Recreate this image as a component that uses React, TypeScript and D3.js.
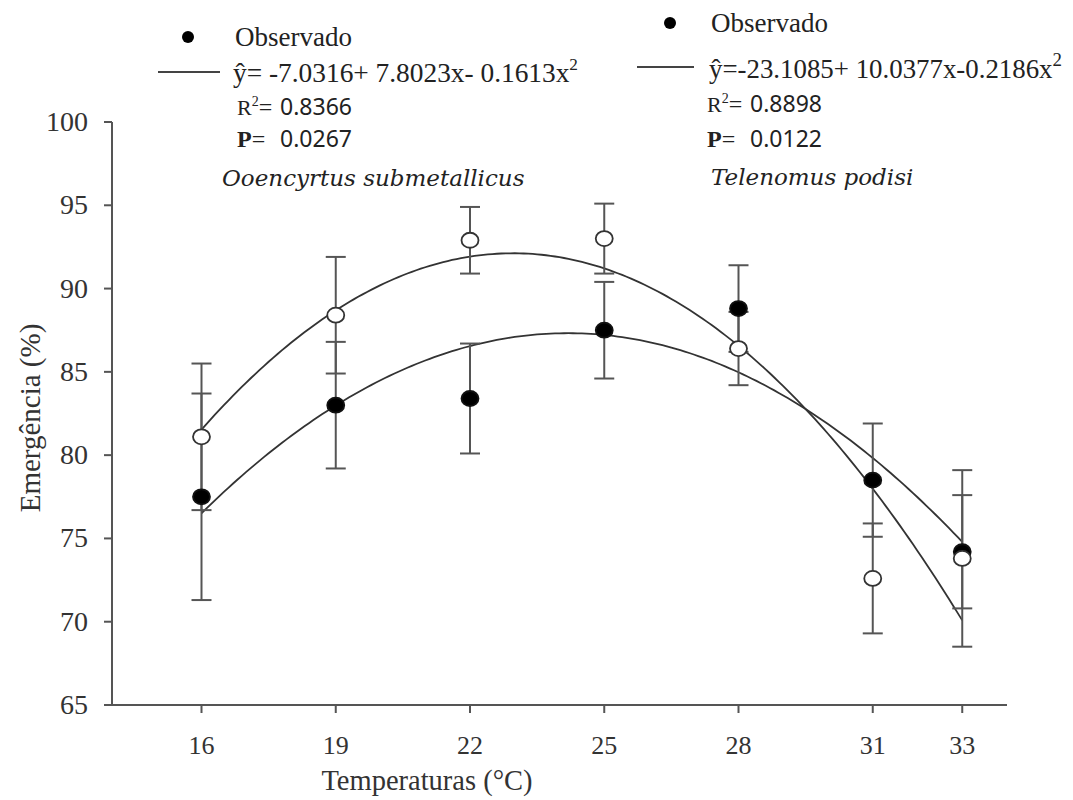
import React from 'react';
import * as d3 from 'd3';

// Temperatures tested (°C)
const temps = [16, 19, 22, 25, 28, 31, 33];

// Ooencyrtus submetallicus: mean emergence (%) and standard error
const ooencyrtusMean = [77.5, 83.0, 83.4, 87.5, 88.8, 78.5, 74.2];
const ooencyrtusSE = [6.2, 3.8, 3.3, 2.9, 2.6, 3.4, 3.4];

// Telenomus podisi: mean emergence (%) and standard error
const telenomusMean = [81.1, 88.4, 92.9, 93.0, 86.4, 72.6, 73.8];
const telenomusSE = [4.4, 3.5, 2.0, 2.1, 2.2, 3.3, 5.3];

// Quadratic regression coefficients [b0, b1, b2]
const ooencyrtusCoef = [-7.0316, 7.8023, -0.1613];
const telenomusCoef = [-23.1085, 10.0377, -0.2186];

const yTicks = [65, 70, 75, 80, 85, 90, 95, 100];

const W = 1073;
const H = 800;
const SERIF = "'Liberation Serif', 'Times New Roman', serif";
const SANS = "'Noto Sans', 'Open Sans', sans-serif";
const ITALIC = "'DejaVu Serif', serif";
const AXIS = '#555';
const INK = '#222';

const x = d3.scaleLinear().domain([14, 34]).range([112, 1007]);
const y = d3.scaleLinear().domain([65, 100]).range([705, 122]);

const quad = (c: number[]) => (t: number) => c[0] + c[1] * t + c[2] * t * t;

const curvePath = (c: number[]) => {
  const f = quad(c);
  const xs = d3.range(temps[0], temps[temps.length - 1] + 0.001, 0.1);
  return d3
    .line<number>()
    .x((t) => x(t))
    .y((t) => y(f(t)))
    .curve(d3.curveLinear)(xs) as string;
};

function ErrorBars({ mean, se }: { mean: number[]; se: number[] }) {
  return (
    <g stroke={AXIS} strokeWidth={2} fill="none">
      {temps.map((t, i) => {
        const cx = x(t);
        const top = y(mean[i] + se[i]);
        const bot = y(mean[i] - se[i]);
        return (
          <g key={t}>
            <line x1={cx} x2={cx} y1={top} y2={bot} />
            <line x1={cx - 10} x2={cx + 10} y1={top} y2={top} />
            <line x1={cx - 10} x2={cx + 10} y1={bot} y2={bot} />
          </g>
        );
      })}
    </g>
  );
}

function Markers({ mean, filled }: { mean: number[]; filled: boolean }) {
  return (
    <g>
      {temps.map((t, i) => (
        <ellipse
          key={t}
          cx={x(t)}
          cy={y(mean[i])}
          rx={8.5}
          ry={7.5}
          fill={filled ? '#000' : '#fff'}
          stroke={filled ? '#111' : '#333'}
          strokeWidth={1.8}
        />
      ))}
    </g>
  );
}

function Legend({
  dotX, dotY, lineX1, lineX2, lineY, textX, obsY, eqX, eqY, eq, eqLen, sup, supSize,
  statX, numOffset, r2Y, r2, pY, p, species, spX, spY,
}: any) {
  return (
    <g fill={INK}>
      <circle cx={dotX} cy={dotY} r={6} fill="#000" />
      <text x={textX} y={obsY} fontFamily={SERIF} fontSize={27}>Observado</text>
      <line x1={lineX1} x2={lineX2} y1={lineY} y2={lineY} stroke="#444" strokeWidth={2} />
      <text
        x={eqX}
        y={eqY}
        fontFamily={SERIF}
        fontSize={27}
        textLength={eqLen}
        lengthAdjust="spacingAndGlyphs"
      >
        {eq}
        <tspan dy={-12} fontSize={supSize}>{sup}</tspan>
      </text>
      <text x={statX} y={r2Y}>
        <tspan fontFamily={SERIF} fontSize={22}>R</tspan>
        <tspan fontFamily={SERIF} fontSize={14} dy={-9}>2</tspan>
        <tspan fontFamily={SERIF} fontSize={24} dy={9}>=</tspan>
        <tspan x={statX + numOffset} fontFamily={SANS} fontSize={23}>{r2}</tspan>
      </text>
      <text x={statX} y={pY}>
        <tspan fontFamily={SERIF} fontSize={24} fontWeight="bold">P</tspan>
        <tspan fontFamily={SERIF} fontSize={24}>=</tspan>
        <tspan x={statX + numOffset} fontFamily={SANS} fontSize={23}>{p}</tspan>
      </text>
      <text x={spX} y={spY} fontFamily={ITALIC} fontStyle="italic" fontSize={23}>
        {species}
      </text>
    </g>
  );
}

export default function App() {
  return (
    <svg
      width={W}
      height={H}
      style={{ position: 'absolute', left: 0, top: 0, background: '#fff' }}
    >
      <rect width={W} height={H} fill="#fff" />

      {/* axes */}
      <g stroke={AXIS} strokeWidth={2} fill="none">
        <line x1={x.range()[0]} x2={x.range()[0]} y1={y(100)} y2={y(65)} />
        <line x1={x.range()[0]} x2={x.range()[1]} y1={y(65)} y2={y(65)} />
        {yTicks.map((v) => (
          <line key={v} x1={x.range()[0] - 8} x2={x.range()[0]} y1={y(v)} y2={y(v)} />
        ))}
        {temps.map((t) => (
          <line key={t} x1={x(t)} x2={x(t)} y1={y(65)} y2={y(65) + 8} />
        ))}
      </g>
      <g fontFamily={SERIF} fill="#333">
        {yTicks.map((v) => (
          <text key={v} x={88} y={y(v) + 9} textAnchor="end" fontSize={28}>{v}</text>
        ))}
        {temps.map((t) => (
          <text key={t} x={x(t)} y={754} textAnchor="middle" fontSize={26}>{t}</text>
        ))}
      </g>
      <text x={427} y={790} textAnchor="middle" fontFamily={SERIF} fontSize={28.5} fill="#333">
        Temperaturas (°C)
      </text>
      <text
        transform={`translate(40, 418) rotate(-90)`}
        textAnchor="middle"
        fontFamily={SERIF}
        fontSize={29}
        fill="#333"
      >
        Emergência (%)
      </text>

      {/* regression curves */}
      <path d={curvePath(ooencyrtusCoef)} fill="none" stroke="#333" strokeWidth={1.8} />
      <path d={curvePath(telenomusCoef)} fill="none" stroke="#333" strokeWidth={1.8} />

      {/* error bars and observed means */}
      <ErrorBars mean={ooencyrtusMean} se={ooencyrtusSE} />
      <ErrorBars mean={telenomusMean} se={telenomusSE} />
      <Markers mean={ooencyrtusMean} filled={true} />
      <Markers mean={telenomusMean} filled={false} />

      <Legend
        dotX={188} dotY={37} lineX1={158} lineX2={220} lineY={72}
        textX={235} obsY={46}
        eqX={233} eqY={82} eq="ŷ= -7.0316+ 7.8023x- 0.1613x" eqLen={345} sup="2" supSize={17}
        statX={237} numOffset={43} r2Y={115} r2="0.8366" pY={147} p="0.0267"
        species="Ooencyrtus submetallicus" spX={222} spY={186}
      />
      <Legend
        dotX={670} dotY={23} lineX1={637} lineX2={694} lineY={67}
        textX={711} obsY={32}
        eqX={709} eqY={78} eq="ŷ=-23.1085+ 10.0377x-0.2186x" eqLen={353} sup="2" supSize={19}
        statX={707} numOffset={43} r2Y={112} r2="0.8898" pY={147} p="0.0122"
        species="Telenomus podisi" spX={711} spY={185}
      />
    </svg>
  );
}
